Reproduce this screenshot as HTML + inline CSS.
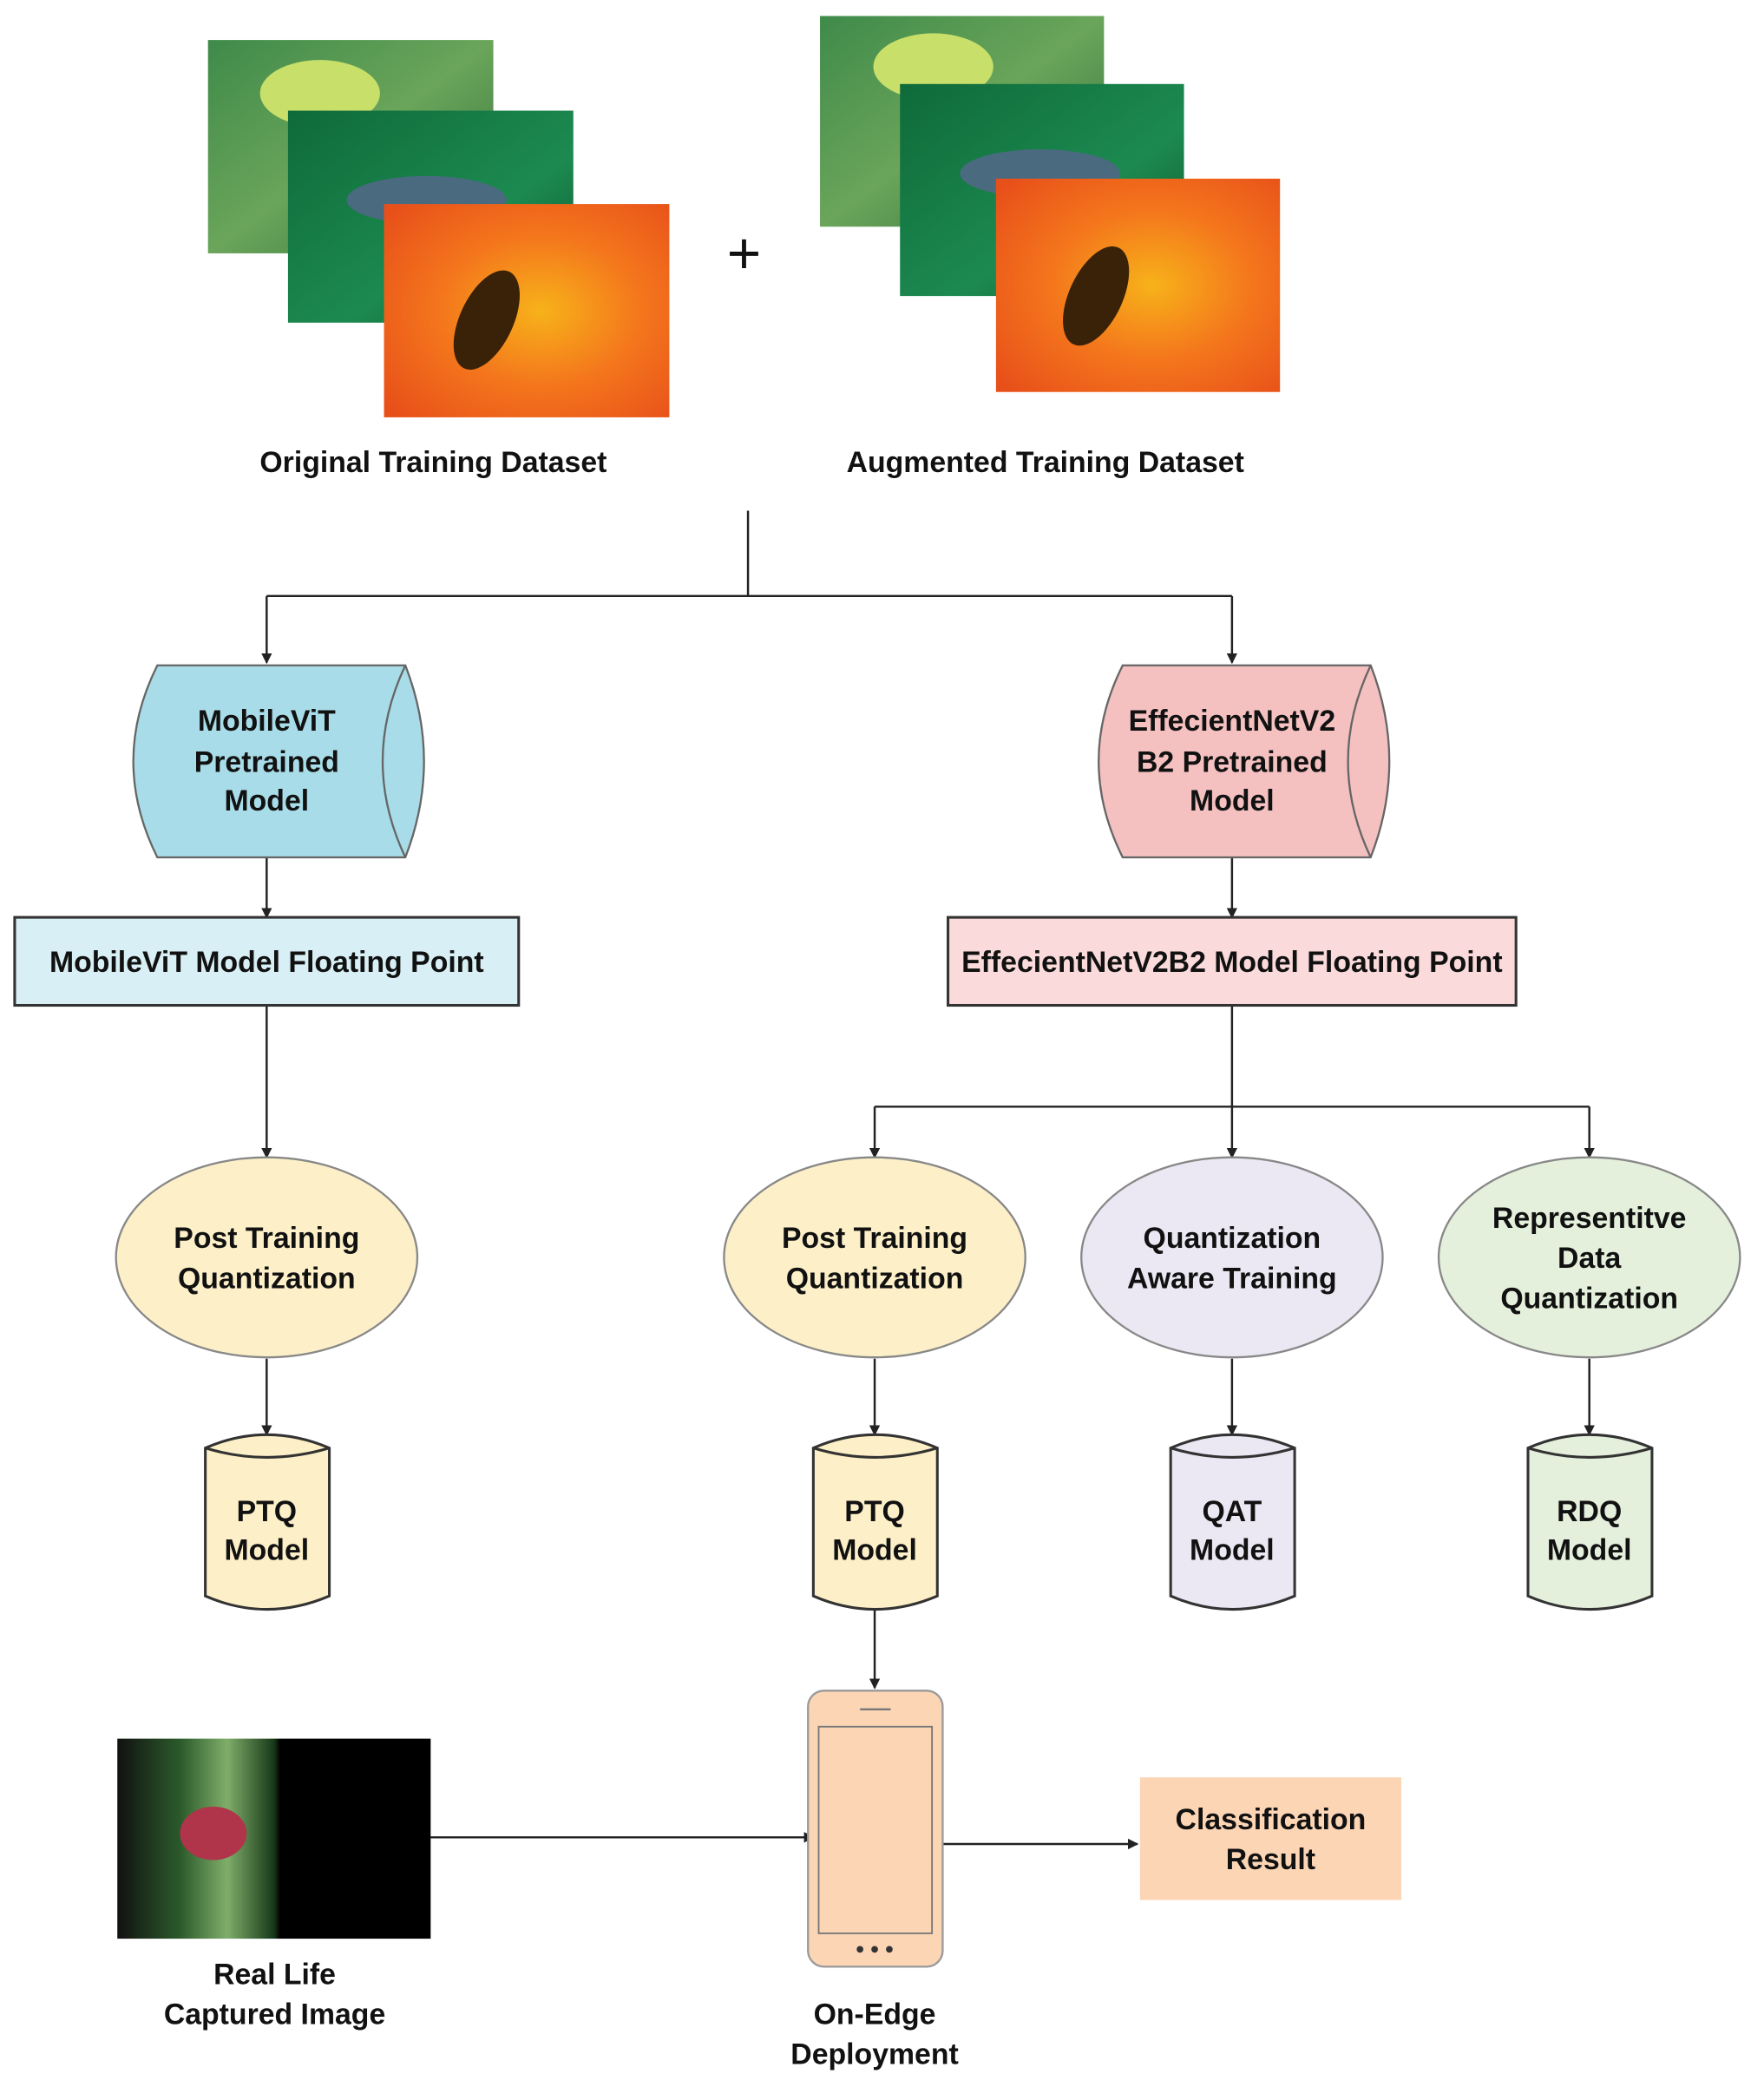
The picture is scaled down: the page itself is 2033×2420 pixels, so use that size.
<!DOCTYPE html>
<html><head><meta charset="utf-8"><style>
html,body{margin:0;padding:0;background:#fff;}
svg{display:block;}
text{font-family:"Liberation Sans",sans-serif;font-weight:bold;font-size:22px;fill:#111;text-anchor:middle;}
</style></head><body>
<svg width="2033" height="2420" viewBox="0 0 1323 1575" preserveAspectRatio="none" xmlns="http://www.w3.org/2000/svg">
<defs>
<marker id="a" markerWidth="8" markerHeight="8" refX="7" refY="4" orient="auto" markerUnits="userSpaceOnUse"><path d="M0,0 L8,4 L0,8 z" fill="#222"/></marker>
<linearGradient id="g1" x1="0" y1="0" x2="1" y2="1"><stop offset="0" stop-color="#3f8a4a"/><stop offset="0.5" stop-color="#6aa55a"/><stop offset="1" stop-color="#2e6e3a"/></linearGradient>
<linearGradient id="g2" x1="0" y1="0" x2="1" y2="1"><stop offset="0" stop-color="#0f6a3a"/><stop offset="0.6" stop-color="#1c8a50"/><stop offset="1" stop-color="#0c4f2b"/></linearGradient>
<radialGradient id="g3" cx="0.55" cy="0.5" r="0.7"><stop offset="0" stop-color="#f7b21a"/><stop offset="0.5" stop-color="#f4761c"/><stop offset="1" stop-color="#e8501a"/></radialGradient>
<linearGradient id="g4" x1="0" y1="0" x2="1" y2="0"><stop offset="0" stop-color="#111"/><stop offset="0.2" stop-color="#2b5a2b"/><stop offset="0.35" stop-color="#7fae6a"/><stop offset="0.5" stop-color="#183818"/><stop offset="0.52" stop-color="#000"/><stop offset="1" stop-color="#000"/></linearGradient>
</defs>
<rect x="156" y="30" width="214" height="160" fill="url(#g1)"/>
<ellipse cx="240" cy="70" rx="45" ry="25" fill="#c8df6a"/>
<rect x="216" y="83" width="214" height="159" fill="url(#g2)"/>
<ellipse cx="320" cy="150" rx="60" ry="18" fill="#4a6a80"/>
<rect x="288" y="153" width="214" height="160" fill="url(#g3)"/>
<ellipse cx="365" cy="240" rx="20" ry="40" fill="#3a2208" transform="rotate(25 365 240)"/>
<rect x="615" y="12" width="213" height="158" fill="url(#g1)"/>
<ellipse cx="700" cy="50" rx="45" ry="25" fill="#c8df6a"/>
<rect x="675" y="63" width="213" height="159" fill="url(#g2)"/>
<ellipse cx="780" cy="130" rx="60" ry="18" fill="#4a6a80"/>
<rect x="747" y="134" width="213" height="160" fill="url(#g3)"/>
<ellipse cx="822" cy="222" rx="20" ry="40" fill="#3a2208" transform="rotate(25 822 222)"/>
<text x="558" y="205" style="font-size:44px;font-weight:normal">+</text>
<text x="325" y="354">Original Training Dataset</text>
<text x="784" y="354">Augmented Training Dataset</text>
<g stroke="#222" stroke-width="1.6" fill="none">
<path d="M561,383 V447 M200,447 H924"/>
<path d="M200,447 V497" marker-end="url(#a)"/>
<path d="M924,447 V497" marker-end="url(#a)"/>
<path d="M200,643 V688" marker-end="url(#a)"/>
<path d="M924,643 V688" marker-end="url(#a)"/>
<path d="M200,754 V868" marker-end="url(#a)"/>
<path d="M924,754 V868" marker-end="url(#a)"/>
<path d="M656,830 H1192"/>
<path d="M656,830 V868" marker-end="url(#a)"/>
<path d="M1192,830 V868" marker-end="url(#a)"/>
<path d="M200,1019 V1076" marker-end="url(#a)"/>
<path d="M656,1019 V1076" marker-end="url(#a)"/>
<path d="M924,1019 V1076" marker-end="url(#a)"/>
<path d="M1192,1019 V1076" marker-end="url(#a)"/>
<path d="M656,1207 V1266" marker-end="url(#a)"/>
<path d="M323,1378 H610" marker-end="url(#a)"/>
<path d="M707,1383 H853" marker-end="url(#a)"/>
</g>
<path d="M118,499 H304 Q332,571 304,643 H118 Q82,571 118,499 Z" fill="#a8dce8" stroke="#666" stroke-width="1.5"/>
<path d="M304,499 Q270,571 304,643" fill="none" stroke="#666" stroke-width="1.5"/>
<text x="200" y="548">MobileViT</text><text x="200" y="579">Pretrained</text><text x="200" y="608">Model</text>
<path d="M842,499 H1028 Q1056,571 1028,643 H842 Q806,571 842,499 Z" fill="#f4c0c0" stroke="#666" stroke-width="1.5"/>
<path d="M1028,499 Q994,571 1028,643" fill="none" stroke="#666" stroke-width="1.5"/>
<text x="924" y="548">EffecientNetV2</text><text x="924" y="579">B2 Pretrained</text><text x="924" y="608">Model</text>
<rect x="11" y="688" width="378" height="66" fill="#d8eff5" stroke="#333" stroke-width="2"/>
<text x="200" y="729">MobileViT Model Floating Point</text>
<rect x="711" y="688" width="426" height="66" fill="#fadadb" stroke="#333" stroke-width="2"/>
<text x="924" y="729">EffecientNetV2B2 Model Floating Point</text>
<g stroke="#888" stroke-width="1.5">
<ellipse cx="200" cy="943" rx="113" ry="75" fill="#fdf0c8"/>
<ellipse cx="656" cy="943" rx="113" ry="75" fill="#fdf0c8"/>
<ellipse cx="924" cy="943" rx="113" ry="75" fill="#ebe8f3"/>
<ellipse cx="1192" cy="943" rx="113" ry="75" fill="#e4f0dc"/>
</g>
<text x="200" y="936">Post Training</text><text x="200" y="966">Quantization</text>
<text x="656" y="936">Post Training</text><text x="656" y="966">Quantization</text>
<text x="924" y="936">Quantization</text><text x="924" y="966">Aware Training</text>
<text x="1192" y="921">Representitve</text><text x="1192" y="951">Data</text><text x="1192" y="981">Quantization</text>
<g stroke="#333" stroke-width="2">
<path d="M154,1086 Q200,1066 247,1086 V1197 Q200,1217 154,1197 Z" fill="#fdf0c8"/>
<path d="M154,1086 Q200,1100 247,1086" fill="none"/>
<path d="M610,1086 Q656,1066 703,1086 V1197 Q656,1217 610,1197 Z" fill="#fdf0c8"/>
<path d="M610,1086 Q656,1100 703,1086" fill="none"/>
<path d="M878,1086 Q924,1066 971,1086 V1197 Q924,1217 878,1197 Z" fill="#ebe8f3"/>
<path d="M878,1086 Q924,1100 971,1086" fill="none"/>
<path d="M1146,1086 Q1192,1066 1239,1086 V1197 Q1192,1217 1146,1197 Z" fill="#e4f0dc"/>
<path d="M1146,1086 Q1192,1100 1239,1086" fill="none"/>
</g>
<text x="200" y="1141">PTQ</text><text x="200" y="1170">Model</text>
<text x="656" y="1141">PTQ</text><text x="656" y="1170">Model</text>
<text x="924" y="1141">QAT</text><text x="924" y="1170">Model</text>
<text x="1192" y="1141">RDQ</text><text x="1192" y="1170">Model</text>
<rect x="606" y="1268" width="101" height="207" rx="12" fill="#fcd5b5" stroke="#999" stroke-width="1.5"/>
<rect x="614" y="1295" width="85" height="155" fill="#fcd5b5" stroke="#777" stroke-width="1.2"/>
<line x1="645" y1="1282" x2="668" y2="1282" stroke="#777" stroke-width="1.5"/>
<circle cx="645" cy="1462" r="2.5" fill="#333"/><circle cx="656" cy="1462" r="2.5" fill="#333"/><circle cx="667" cy="1462" r="2.5" fill="#333"/>
<rect x="88" y="1304" width="235" height="150" fill="url(#g4)"/>
<ellipse cx="160" cy="1375" rx="25" ry="20" fill="#b0344a"/>
<text x="206" y="1488">Real Life</text><text x="206" y="1518">Captured Image</text>
<text x="656" y="1518">On-Edge</text><text x="656" y="1548">Deployment</text>
<rect x="855" y="1333" width="196" height="92" fill="#fcd5b5"/>
<text x="953" y="1372">Classification</text><text x="953" y="1402">Result</text>
</svg>
</body></html>
